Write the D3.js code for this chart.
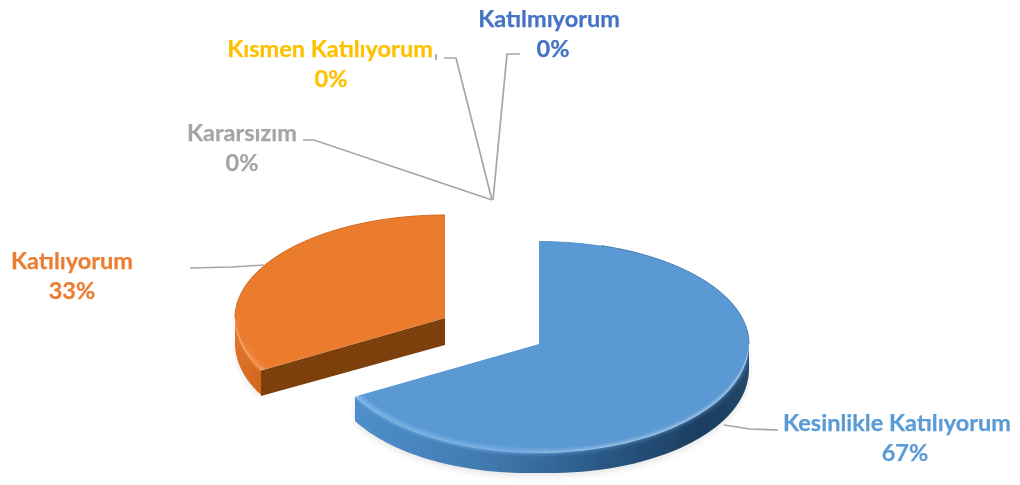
<!DOCTYPE html>
<html><head><meta charset="utf-8">
<script src="https://cdn.jsdelivr.net/npm/d3@7/dist/d3.min.js"></script>
<style>html,body{margin:0;background:#fff}svg{display:block}text{font-family:Lato,"Open Sans",sans-serif;font-weight:700;font-size:23.5px;text-anchor:middle;stroke:currentColor;stroke-width:.25}</style>
</head><body><svg id="c" width="1020" height="485"></svg>
<script>
const categories=["Kesinlikle Katılıyorum","Katılıyorum","Kararsızım","Kısmen Katılıyorum","Katılmıyorum"];
const shares=[67,33,0,0,0];
const labelColors=["#5b9bd5","#ed7d31","#a5a5a5","#ffc000","#4472c4"];
const sliceCenters=[[539,344],[445,318]];
const labelAnchors=[[897,431],[72,269],[242,141],[330,57],[549,27]];
const percentX=[905,72,242,331,553];
const leaders=[
 [[724,425],[750,429],[778,430]],
 [[264,265],[232,267],[190,268]],
 [[492,200],[314,140],[303,140]],
 [[492,200],[456,58],[444,58]],
 [[493,200],[507,54],[520,54]],
 [[436,54],[436,60]]];

const svg=d3.select("#c"),RX=210,RY_FAR=103,RY_NEAR=109,DEPTH_MIN=20;
const defs=svg.append("defs");
defs.append("filter").attr("id","soft").append("feGaussianBlur").attr("stdDeviation",.7);
const blurF=(id,s)=>defs.append("filter").attr("id",id).attr("x","-15%").attr("y","-15%").attr("width","130%").attr("height","130%").append("feGaussianBlur").attr("stdDeviation",s);
blurF("shadow",3);blurF("edge",2.4);blurF("bevel",1.8);
function grad(id,x1,x2,stops){const g=defs.append("linearGradient").attr("id",id).attr("gradientUnits","userSpaceOnUse").attr("x1",x1).attr("x2",x2).attr("y1",0).attr("y2",0);
 stops.forEach(s=>g.append("stop").attr("offset",s[0]).attr("stop-color",s[1]).attr("stop-opacity",s[2]===undefined?1:s[2]));}
grad("blueWall",355,750,[[0,"#4f8fcb"],[.35,"#3f78ad"],[.66,"#285480"],[.88,"#1c3d5f"],[1,"#234769"]]);
grad("blueRim",355,750,[[0,"#74aee4",.9],[.45,"#6aa6dd",.7],[.6,"#6aa6dd",0],[1,"#6aa6dd",0]]);
grad("orangeWall",232,270,[[0,"#e0732a"],[.6,"#d66a20"],[1,"#c2601c"]]);
grad("orangeRim",232,270,[[0,"#ed7d31",0],[.6,"#f28a42",.8],[1,"#f28a42",.8]]);

const pie=d3.pie().sort(null).value(d=>d)(shares);
const depthAt=a=>DEPTH_MIN+5*Math.abs(Math.sin(a));
const pt=(c,a,r=1,dy=0)=>[c[0]+RX*r*Math.sin(a),c[1]-(Math.cos(a)>0?RY_FAR:RY_NEAR)*r*Math.cos(a)+dy];
const rim=(c,a0,a1,r=1)=>d3.range(61).map(i=>pt(c,a0+(a1-a0)*i/60,r));
const rimLow=(c,a0,a1,extra=0)=>d3.range(61).map(i=>{const a=a0+(a1-a0)*i/60;return pt(c,a,1,depthAt(a)+extra);});
const line=d3.line();
const fills=[{top:"#5a99d4",wall:"url(#blueWall)",rim:"url(#blueRim)"},{top:"#eb7c2f",wall:"url(#orangeWall)",rim:"url(#orangeRim)",inner:"#7d4011"}];
const plot=svg.append("g").attr("filter","url(#soft)");

[1,0].forEach(i=>{
 const d=pie[i],c=sliceCenters[i],f=fills[i];
 const wa0=i==0?Math.PI/2:d.startAngle, wa1=i==0?d.endAngle:Math.PI*1.5;
 const wallD=line([...rim(c,wa0,wa1),...rimLow(c,wa1,wa0)])+"Z";
 const topD=line([c,...rim(c,d.startAngle,d.endAngle)])+"Z";
 const cp=defs.append("clipPath").attr("id","sil"+i);
 cp.append("path").attr("d",wallD);cp.append("path").attr("d",topD);
 const g=plot.append("g");
 g.append("path").attr("d",line([...rimLow(c,wa0,wa1,3),...rim(c,wa1,wa0)])+"Z").attr("fill","#000").attr("opacity",.1).attr("filter","url(#shadow)");
 if(f.inner){const a=pt(c,d.startAngle),b=c;
  g.append("path").attr("d",line([a,b,[b[0],b[1]+27],[a[0],a[1]+depthAt(d.startAngle)+1]])+"Z").attr("fill",f.inner);}
 g.append("path").attr("d",wallD).attr("fill",f.wall);
 const inside=g.append("g").attr("clip-path",`url(#sil${i})`);
 inside.append("path").attr("d",topD).attr("fill",f.top).attr("filter","url(#edge)");
 const n=90,body=[c,...d3.range(n+1).map(k=>{const a=d.startAngle+(d.endAngle-d.startAngle)*k/n,r=Math.cos(a)>0?1:1+.05*Math.cos(a);return pt(c,a,r);})];
 inside.append("path").attr("d",line(body)+"Z").attr("fill",f.top);
 inside.append("path").attr("d",line(rim(c,wa0,wa1,.985))).attr("fill","none").attr("stroke",f.rim).attr("stroke-width",5).attr("filter","url(#bevel)");
 const far=i==0?[.3,Math.PI/2]:[Math.PI*1.5,Math.PI*2];
 g.append("path").attr("d",line(rim(c,far[0],far[1]))).attr("fill","none").attr("stroke",i==0?"#3f78ad":"#cf6a24").attr("stroke-width",1);
});

svg.append("g").selectAll("path").data(leaders).join("path").attr("d",d=>line(d)).attr("fill","none").attr("stroke","#a6a6a6").attr("stroke-width",1.7);

const lab=svg.append("g").selectAll("g").data(categories).join("g").attr("color",(d,i)=>labelColors[i]).attr("fill",(d,i)=>labelColors[i]);
lab.append("text").attr("x",(d,i)=>labelAnchors[i][0]).attr("y",(d,i)=>labelAnchors[i][1]).text(d=>d);
lab.append("text").attr("x",(d,i)=>percentX[i]).attr("y",(d,i)=>labelAnchors[i][1]+30).text((d,i)=>shares[i]+"%");
</script></body></html>
